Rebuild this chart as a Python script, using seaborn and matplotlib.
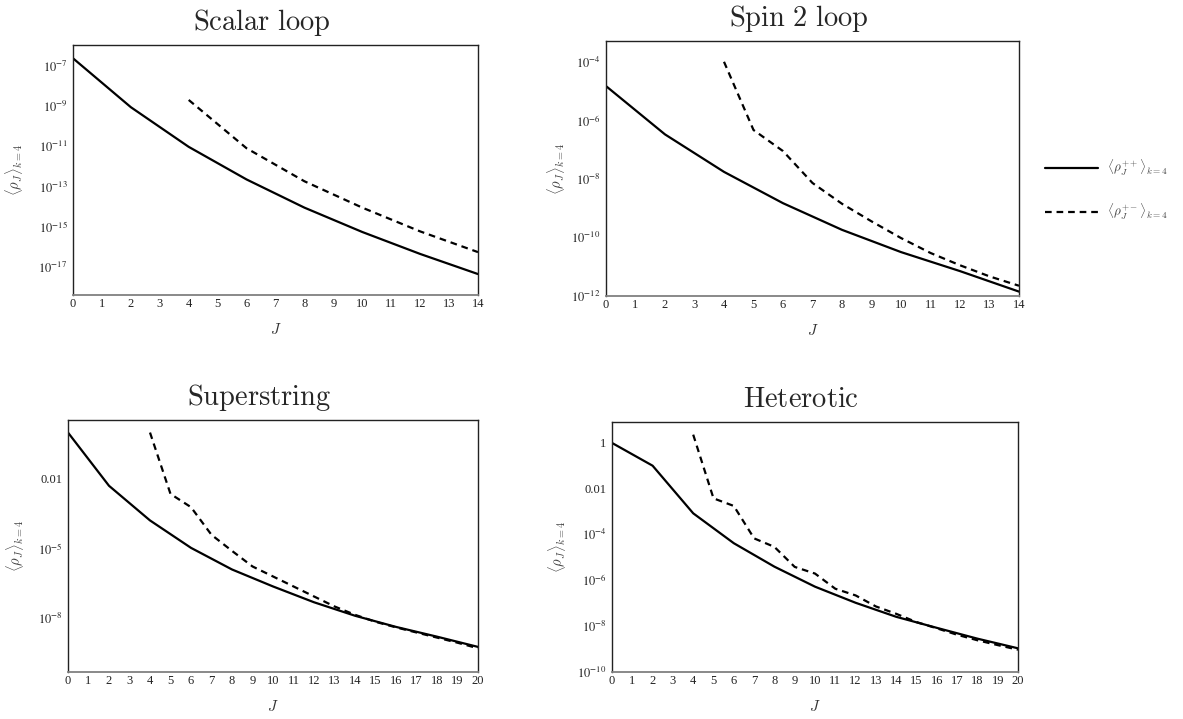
import numpy as np
import pandas as pd
import matplotlib
matplotlib.use("Agg")
import matplotlib.pyplot as plt
import seaborn as sns
from matplotlib.lines import Line2D
from matplotlib.ticker import FixedLocator, FixedFormatter, NullFormatter

# log10 of <rho_J>_{k=4}
scalar_J_pp = [0, 2, 4, 6, 8, 10, 12, 14]
scalar_pp = [-6.63, -9.06, -11.03, -12.65, -14.05, -15.26, -16.35, -17.35]
scalar_J_pm = [4, 6, 8, 10, 12, 14]
scalar_pm = [-8.70, -11.10, -12.74, -14.05, -15.23, -16.26]

spin2_J_pp = [0, 2, 4, 6, 8, 10, 12, 14]
spin2_pp = [-4.83, -6.48, -7.76, -8.83, -9.74, -10.50, -11.15, -11.85]
spin2_J_pm = [4, 5, 6, 7, 8, 9, 10, 11, 12, 13, 14]
spin2_pm = [-4.00, -6.33, -7.05, -8.14, -8.85, -9.45, -10.02, -10.53, -10.95, -11.33, -11.65]

super_J_pp = [0, 2, 4, 6, 8, 10, 12, 14, 16, 18, 20]
super_pp = [-0.02, -2.31, -3.80, -4.98, -5.91, -6.64, -7.32, -7.90, -8.38, -8.80, -9.24]
super_J_pm = [4, 5, 6, 7, 8, 9, 10, 11, 12, 13, 14, 15, 16, 17, 18, 19, 20]
super_pm = [-0.02, -2.66, -3.23, -4.42, -5.11, -5.78, -6.21, -6.64, -7.07, -7.50,
            -7.86, -8.16, -8.40, -8.62, -8.84, -9.06, -9.30]

het_J_pp = [0, 2, 4, 6, 8, 10, 12, 14, 16, 18, 20]
het_pp = [-0.04, -1.03, -3.10, -4.40, -5.42, -6.29, -6.99, -7.60, -8.08, -8.55, -8.97]
het_J_pm = [4, 5, 6, 7, 8, 9, 10, 11, 12, 13, 14, 15, 16, 17, 18, 19, 20]
het_pm = [0.32, -2.45, -2.78, -4.19, -4.56, -5.43, -5.72, -6.38, -6.67, -7.15,
          -7.47, -7.83, -8.10, -8.38, -8.62, -8.83, -9.03]

titles = ["Scalar loop", "Spin 2 loop", "Superstring", "Heterotic"]

sns.set_style("white")
plt.rcParams["font.family"] = ["Liberation Serif", "DejaVu Serif"]
plt.rcParams["mathtext.fontset"] = "stix"

fig = plt.figure(figsize=(11.83, 7.19), dpi=100)
W, H = 1183, 719


def make_ax(x0, y0, x1, y1):
    return fig.add_axes([x0 / W, 1 - y1 / H, (x1 - x0) / W, (y1 - y0) / H])


# (axes box in px, ylabel offset in px)
panels = [
    ((73, 45, 478, 295), 48, scalar_J_pp, scalar_pp, scalar_J_pm, scalar_pm, 14, (-18.39, -5.97),
     {-7: r"$10^{-7}$", -9: r"$10^{-9}$", -11: r"$10^{-11}$", -13: r"$10^{-13}$",
      -15: r"$10^{-15}$", -17: r"$10^{-17}$"}),
    ((606, 41, 1019, 296), 39, spin2_J_pp, spin2_pp, spin2_J_pm, spin2_pm, 14, (-12.0, -3.29),
     {-4: r"$10^{-4}$", -6: r"$10^{-6}$", -8: r"$10^{-8}$", -10: r"$10^{-10}$", -12: r"$10^{-12}$"}),
    ((68, 420, 478, 672), 42, super_J_pp, super_pp, super_J_pm, super_pm, 20, (-10.32, 0.52),
     {-2: "0.01", -5: r"$10^{-5}$", -8: r"$10^{-8}$"}),
    ((612, 422, 1018, 672), 44, het_J_pp, het_pp, het_J_pm, het_pm, 20, (-10.0, 0.87),
     {0: "1", -2: "0.01", -4: r"$10^{-4}$", -6: r"$10^{-6}$", -8: r"$10^{-8}$", -10: r"$10^{-10}$"}),
]

for (box, yoff, Jpp, pp, Jpm, pm, jmax, ylim, ylabels), title in zip(panels, titles):
    ax = make_ax(*box)
    width_px = box[2] - box[0]
    df = pd.concat([
        pd.DataFrame({"J": Jpp, "rho": 10 ** np.array(pp), "kind": "pp"}),
        pd.DataFrame({"J": Jpm, "rho": 10 ** np.array(pm), "kind": "pm"}),
    ])
    sns.lineplot(data=df, x="J", y="rho", style="kind", dashes={"pp": "", "pm": (3, 2.2)},
                 color="black", lw=1.6, ax=ax, legend=False, estimator=None)
    ax.set_yscale("log")
    ax.set_xlim(0, jmax)
    ax.set_ylim(10 ** ylim[0], 10 ** ylim[1])

    ax.set_xticks(range(0, jmax + 1))
    ax.set_xticklabels([str(j) for j in range(0, jmax + 1)])
    major = sorted(ylabels)
    ax.yaxis.set_major_locator(FixedLocator([10.0 ** e for e in major]))
    ax.yaxis.set_major_formatter(FixedFormatter([ylabels[e] for e in major]))
    minor = [10.0 ** e for e in range(int(np.floor(ylim[0])), int(np.ceil(ylim[1])) + 1)
             if e not in ylabels]
    ax.yaxis.set_minor_locator(FixedLocator(minor))
    ax.yaxis.set_minor_formatter(NullFormatter())

    ax.tick_params(axis="both", which="major", direction="in", length=4, width=0.8,
                   color="#333333", labelsize=9, labelcolor="#222222")
    ax.tick_params(axis="y", which="major", pad=4)
    ax.tick_params(axis="x", which="major", pad=2)
    ax.tick_params(axis="y", which="minor", direction="in", length=3, width=0.8, color="#333333")
    ax.tick_params(top=False, right=False)
    for side in ["top", "left", "right"]:
        ax.spines[side].set_color("#222222")
        ax.spines[side].set_linewidth(1.0)
    ax.spines["bottom"].set_color("#808080")
    ax.spines["bottom"].set_linewidth(1.3)

    ax.set_xlabel(r"$J$", fontsize=11, color="#333333", labelpad=9, math_fontfamily="cm")
    ax.set_ylabel(r"$\langle\rho_J\rangle_{k=4}$", fontsize=10.5, color="#444444",
                  math_fontfamily="cm")
    ax.yaxis.set_label_coords(-yoff / width_px, 0.5)
    ax.set_title(r"$\mathrm{" + title.replace(" ", r"\ ") + "}$", fontsize=20.5, pad=11,
                 math_fontfamily="cm")
    ax.title.set_x(0.5 - 14 / width_px)

handles = [Line2D([], [], color="black", lw=1.6),
           Line2D([], [], color="black", lw=1.6, dashes=(3, 2.2))]
labels = [r"$\langle\rho_J^{++}\rangle_{k=4}$", r"$\langle\rho_J^{+-}\rangle_{k=4}$"]
leg = fig.legend(handles, labels, loc="center left", bbox_to_anchor=(1033 / W, 1 - 190 / H),
                 frameon=False, handlelength=4.0, handletextpad=0.7, labelspacing=1.8,
                 prop={"size": 9.5, "math_fontfamily": "cm"})
for t in leg.get_texts():
    t.set_color("#444444")

fig.savefig("out.png", dpi=100)
